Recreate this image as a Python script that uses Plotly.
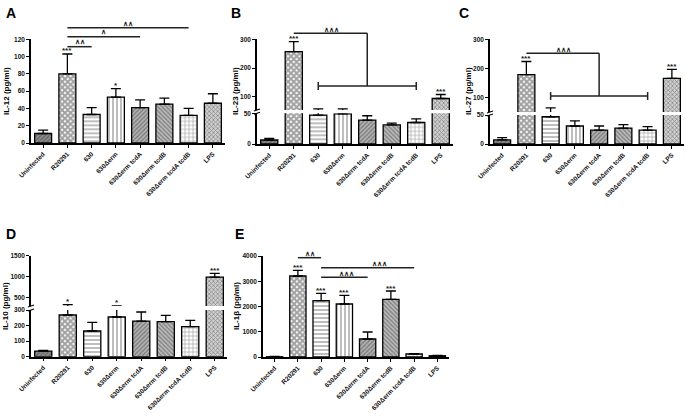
import plotly.graph_objects as go

W, H = 686, 418

categories = ["Uninfected", "R20291", "630", "630\u0394erm", "630\u0394erm tcdA",
              "630\u0394erm tcdB", "630\u0394erm tcdA tcdB", "LPS"]

il12 = [11, 80, 33, 53, 41, 45, 32, 46]
il12_err = [4, 23, 8, 10, 9, 7, 8, 11]
il23 = [6.5, 257, 47, 49, 39, 31, 35, 94]
il23_err = [2.5, 35, 11, 9, 7, 3, 6, 14]
il27 = [7, 179, 47, 31, 24, 27.5, 24, 166]
il27_err = [4, 45, 18, 9, 7, 6, 6, 31]
il10 = [36, 268, 165, 255, 229, 225, 193, 992]
il10_err = [5, 68, 55, 49, 58, 40, 40, 87]
il1b = [10, 3208, 2231, 2099, 713, 2284, 119, 50]
il1b_err = [10, 224, 290, 343, 277, 330, 13, 16]

pat_shape = ["/", "x", "-", "|", "/", "\\", "+", "x"]
pat_fg = ["#3a3a3a", "#000000", "#3a3a3a", "#3a3a3a", "#4a4a4a", "#4a4a4a", "#3a3a3a", "#4a4a4a"]
pat_bg = ["#8c8c8c", "#ffffff", "#ffffff", "#ffffff", "#b4b4b4", "#bcbcbc", "#ffffff", "#d0d0d0"]
pat_size = [3, 4, 4, 4, 3, 3, 4, 3]
pat_sol = [0.45, 0.75, 0.35, 0.35, 0.45, 0.45, 0.3, 0.45]

FONT = "Liberation Sans"


def fx(p):
    return p / W


def fy(p):
    return 1 - p / H


fig = go.Figure()


def add_bars(vals, errs, xa, ya):
    fig.add_trace(go.Bar(
        x=categories, y=vals, xaxis=xa, yaxis=ya, width=0.7,
        marker=dict(color=pat_bg, line=dict(color="black", width=1.3),
                    pattern=dict(shape=pat_shape, fgcolor=pat_fg, bgcolor=pat_bg,
                                 size=pat_size, solidity=pat_sol, fillmode="overlay")),
        error_y=dict(type="data", symmetric=False, array=errs, arrayminus=[0] * len(errs),
                     color="black", thickness=1.3, width=5),
        showlegend=False, hoverinfo="skip"))


tickfont_y = dict(family=FONT, size=6.5, color="#111", weight="bold")
tickfont_x = dict(family=FONT, size=6.5, color="#111", weight="bold")
ax_common = dict(showline=True, linecolor="black", linewidth=1.5, ticks="outside",
                 ticklen=3, tickwidth=1.2, tickcolor="black", showgrid=False,
                 zeroline=False, tickfont=tickfont_y, fixedrange=True, automargin=False)


def xaxis(x0, x1, anchor):
    d = dict(ax_common)
    d.update(domain=[fx(x0), fx(x1)], range=[-0.5, 7.5], anchor=anchor,
             tickangle=-45, type="category", tickfont=tickfont_x)
    return d


def yaxis(y_top, y_bot, rng, tickvals, anchor):
    d = dict(ax_common)
    d.update(domain=[fy(y_bot), fy(y_top)], range=rng, anchor=anchor, tickvals=tickvals)
    return d


layout = dict(template="none", width=W, height=H,
              margin=dict(l=0, r=0, t=0, b=0, autoexpand=False), autosize=False,
              paper_bgcolor="white", plot_bgcolor="white", bargap=0.3,
              font=dict(family=FONT, color="black"), showlegend=False)

# Panel A
layout["xaxis"] = xaxis(31, 225, "y")
layout["yaxis"] = yaxis(39.3, 143, [0, 120], [0, 20, 40, 60, 80, 100, 120], "x")
add_bars(il12, il12_err, "x", "y")

# Panel B (broken axis)
layout["xaxis2"] = xaxis(257, 453, "y2")
layout["yaxis2"] = yaxis(113.3, 144, [0, 50], [0, 50], "x2")
layout["yaxis3"] = yaxis(39.3, 110, [54, 300], [100, 200, 300], "x2")
add_bars(il23, il23_err, "x2", "y2")
add_bars(il23, il23_err, "x2", "y3")

# Panel C (broken axis)
layout["xaxis3"] = xaxis(490, 684, "y4")
layout["yaxis4"] = yaxis(115, 144, [0, 50], [0, 50], "x3")
layout["yaxis5"] = yaxis(39.3, 112, [51, 300], [100, 200, 300], "x3")
add_bars(il27, il27_err, "x3", "y4")
add_bars(il27, il27_err, "x3", "y5")

# Panel D (broken axis)
layout["xaxis4"] = xaxis(31, 227, "y6")
layout["yaxis6"] = yaxis(310, 356.7, [0, 300], [0, 100, 200, 300], "x4")
layout["yaxis7"] = yaxis(255.7, 306, [302, 1500], [500, 1000, 1500], "x4")
add_bars(il10, il10_err, "x4", "y6")
add_bars(il10, il10_err, "x4", "y7")

# Panel E
layout["xaxis5"] = xaxis(263, 449, "y8")
layout["yaxis8"] = yaxis(256, 357, [0, 4000], [0, 1000, 2000, 3000, 4000], "x5")
add_bars(il1b, il1b_err, "x5", "y8")

fig.update_layout(**layout)

annotations = []
shapes = []

# Panel letters
for letter, (px, py) in {"A": (11, 13), "B": (236, 13), "C": (464, 13),
                         "D": (11, 234), "E": (239, 234)}.items():
    annotations.append(dict(text=letter, x=fx(px), y=fy(py), xref="paper", yref="paper",
                            xanchor="center", yanchor="middle", showarrow=False,
                            font=dict(family=FONT, size=14, color="black", weight="bold")))

# Y titles
for title, (px, py) in {"IL-12 (pg/ml)": (7, 91), "IL-23 (pg/ml)": (236, 91),
                        "IL-27 (pg/ml)": (469, 91), "IL-10 (pg/ml)": (5, 306),
                        "IL-1\u03b2 (pg/ml)": (236, 306)}.items():
    annotations.append(dict(text=title, x=fx(px), y=fy(py), xref="paper", yref="paper",
                            xanchor="center", yanchor="middle", showarrow=False, textangle=-90,
                            font=dict(family=FONT, size=8, color="black", weight="bold")))

# significance stars: (x axis, y axis, category index, value top, text)
stars = [
    ("x", "y", 1, il12[1] + il12_err[1], "***"),
    ("x", "y", 3, il12[3] + il12_err[3], "*"),
    ("x2", "y3", 1, il23[1] + il23_err[1], "***"),
    ("x2", "y3", 7, il23[7] + il23_err[7], "***"),
    ("x3", "y5", 1, il27[1] + il27_err[1], "***"),
    ("x3", "y5", 7, il27[7] + il27_err[7], "***"),
    ("x4", "y7", 1, il10[1] + il10_err[1], "*"),
    ("x4", "y7", 3, il10[3] + il10_err[3], "*"),
    ("x4", "y7", 7, il10[7] + il10_err[7], "***"),
    ("x5", "y8", 1, il1b[1] + il1b_err[1], "***"),
    ("x5", "y8", 2, il1b[2] + il1b_err[2], "***"),
    ("x5", "y8", 3, il1b[3] + il1b_err[3], "***"),
    ("x5", "y8", 5, il1b[5] + il1b_err[5], "***"),
]
for xa, ya, i, v, t in stars:
    annotations.append(dict(text=t, x=i, y=v, xref=xa, yref=ya, showarrow=False,
                            xanchor="center", yanchor="middle", yshift=3,
                            font=dict(family=FONT, size=8, color="#222", weight="bold")))

LINE = dict(color="#222", width=1.5)


def hline(xa, i0, i1, py):
    shapes.append(dict(type="line", xref=xa, yref="paper", x0=i0, x1=i1,
                       y0=fy(py), y1=fy(py), line=LINE))


def vline(xa, i, py0, py1):
    shapes.append(dict(type="line", xref=xa, yref="paper", x0=i, x1=i,
                       y0=fy(py0), y1=fy(py1), line=LINE))


def label(xa, i, py, t):
    annotations.append(dict(text=t, x=i, y=fy(py), xref=xa, yref="paper", showarrow=False,
                            xanchor="center", yanchor="middle",
                            font=dict(family=FONT, size=7, color="#222", weight="bold")))


CARET = "\u2227"
# Panel A brackets
hline("x", 1, 2, 46.7); label("x", 1.5, 42, CARET * 2)
hline("x", 1, 4, 36.7); label("x", 2.5, 32, CARET)
hline("x", 1, 6, 27.7); label("x", 3.5, 23, CARET * 2)

# Panel B bracket
hline("x2", 1, 4, 33.3); vline("x2", 4, 33.3, 86); hline("x2", 2, 6, 86)
vline("x2", 2, 82, 90); vline("x2", 6, 82, 90); label("x2", 2.55, 29.5, CARET * 3)

# Panel C bracket
hline("x3", 1, 4, 53.3); vline("x3", 4, 53.3, 96); hline("x3", 2, 6, 96)
vline("x3", 2, 92, 100); vline("x3", 6, 92, 100); label("x3", 2.55, 49.5, CARET * 3)

# Panel E brackets
hline("x5", 1, 2, 257.7); label("x5", 1.5, 253, CARET * 2)
hline("x5", 2, 6, 267.7); label("x5", 4.5, 263.5, CARET * 3)
hline("x5", 2, 4, 277.3); label("x5", 3.1, 273, CARET * 3)

# axis break marks
for ax_px, yb in [(257, (110, 113.3)), (490, (112, 115)), (31, (306, 310))]:
    for y in yb:
        shapes.append(dict(type="line", xref="paper", yref="paper",
                           x0=fx(ax_px - 3), x1=fx(ax_px + 3), y0=fy(y + 1), y1=fy(y - 1),
                           line=dict(color="black", width=1.2)))

fig.update_layout(annotations=annotations, shapes=shapes)

fig.write_html("out.html", config={"displayModeBar": False},
               post_script="document.body.style.margin='0px';document.body.style.overflow='hidden';")
